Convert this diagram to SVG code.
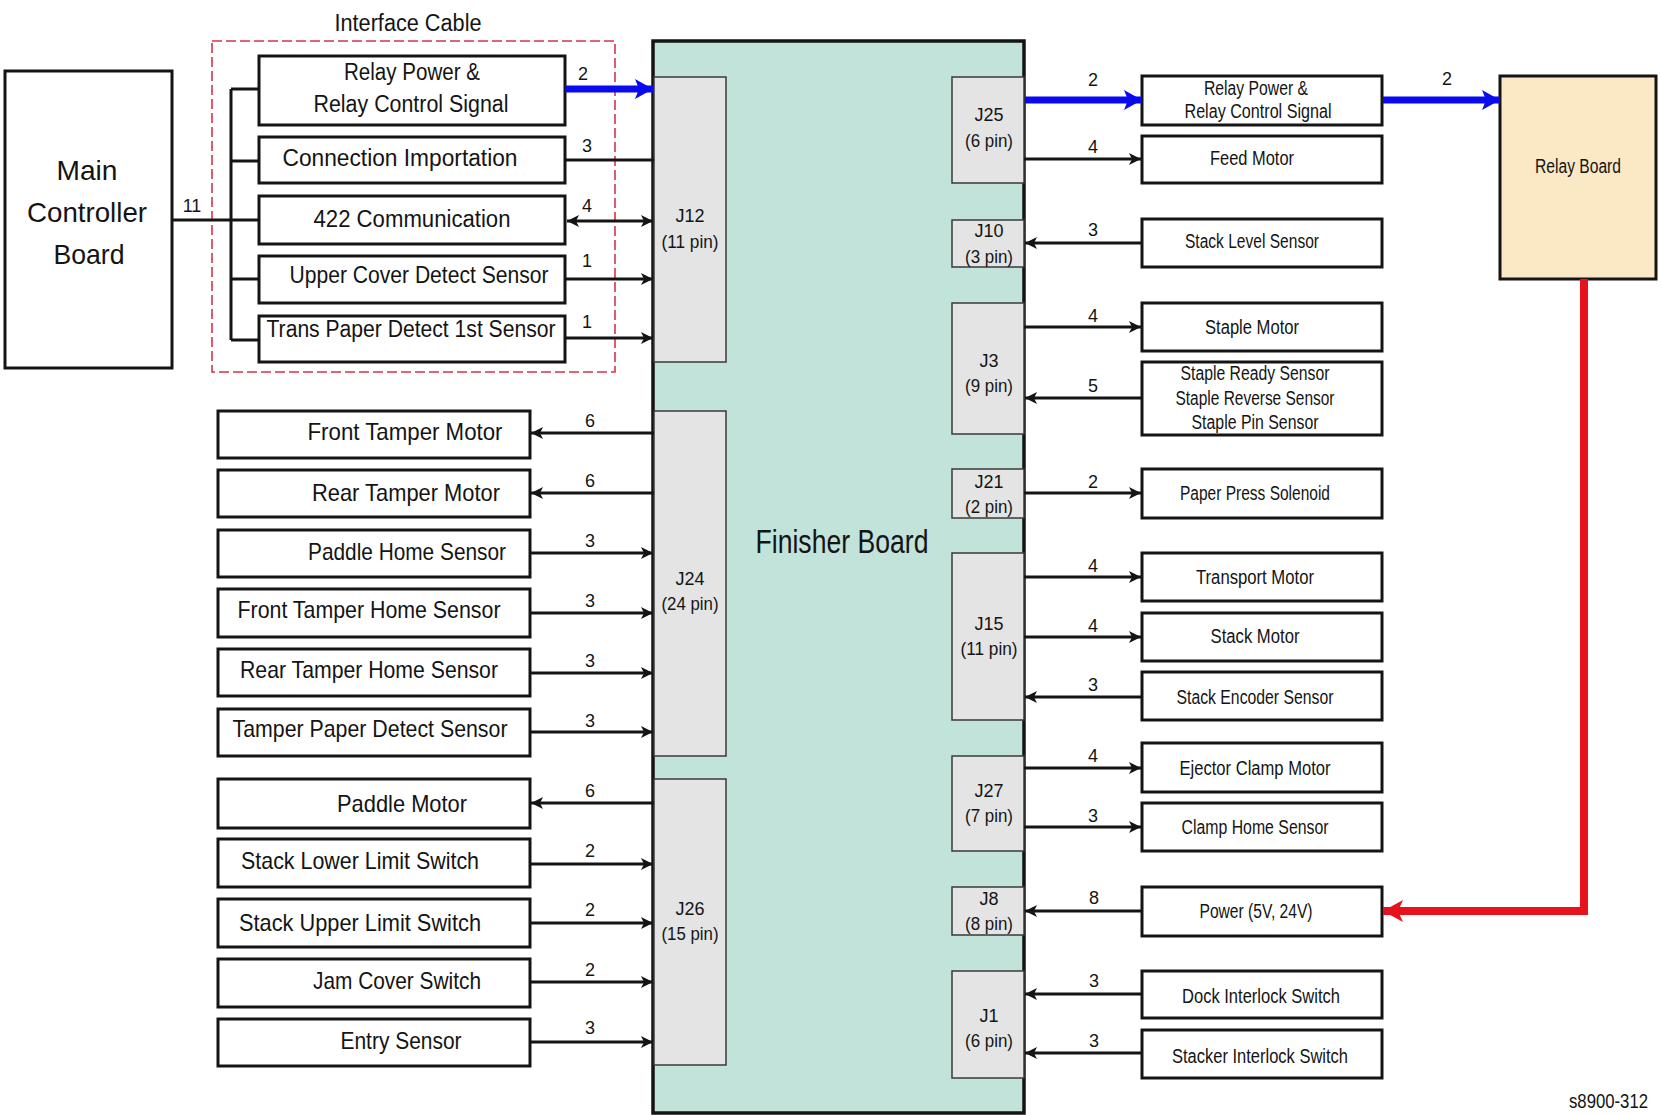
<svg xmlns="http://www.w3.org/2000/svg" width="1661" height="1115" viewBox="0 0 1661 1115">
  <style>
    .t { font-family: "Liberation Sans", Arial, sans-serif; fill: #141414; text-anchor: middle; }
    .ib { font-size: 23px; }
    .lb { font-size: 24px; }
    .rb { font-size: 20px; }
    .jl { font-size: 18px; }
    .num { font-size: 18px; }
    .box { fill: #ffffff; stroke: #141414; stroke-width: 3; }
    .conn { fill: #e4e4e4; stroke: #3a3a3a; stroke-width: 1.5; }
    .w { fill: none; stroke: #141414; stroke-width: 3; }
    .blue { fill: none; stroke: #0a0af0; stroke-width: 7; }
    .red { fill: none; stroke: #e8121c; stroke-width: 8; stroke-linejoin: miter; }
  </style>
  <defs>
    <marker id="ah" markerUnits="userSpaceOnUse" viewBox="0 0 12 12" refX="12" refY="6" markerWidth="12" markerHeight="12" orient="auto-start-reverse">
      <path d="M0,0 L12,6 L0,12 L3,6 Z" fill="#141414"/>
    </marker>
    <marker id="ahBlue" markerUnits="userSpaceOnUse" viewBox="0 0 18 20" refX="18" refY="10" markerWidth="18" markerHeight="20" orient="auto">
      <path d="M0,0 L18,10 L0,20 L4,10 Z" fill="#0a0af0"/>
    </marker>
    <marker id="ahRed" markerUnits="userSpaceOnUse" viewBox="0 0 20 22" refX="20" refY="11" markerWidth="20" markerHeight="22" orient="auto">
      <path d="M0,0 L20,11 L0,22 L5,11 Z" fill="#e8121c"/>
    </marker>
  </defs>

  <rect width="1661" height="1115" fill="#ffffff"/>

  <!-- Finisher board with its connectors -->
  <g id="finisher-board">
    <rect x="653" y="41" width="371" height="1072" fill="#c1e3da" stroke="#141414" stroke-width="3.5"/>
    <text class="t" x="842" y="553" font-size="33" textLength="173" lengthAdjust="spacingAndGlyphs">Finisher Board</text>
  </g>
  <g id="j12"><rect class="conn" x="654" y="77" width="72" height="285"/>
    <text class="t jl" x="690" y="222">J12</text><text class="t jl" x="690" y="248" textLength="57" lengthAdjust="spacingAndGlyphs">(11 pin)</text></g>
  <g id="j24"><rect class="conn" x="654" y="411" width="72" height="345"/>
    <text class="t jl" x="690" y="585">J24</text><text class="t jl" x="690" y="610" textLength="57" lengthAdjust="spacingAndGlyphs">(24 pin)</text></g>
  <g id="j26"><rect class="conn" x="654" y="779" width="72" height="286"/>
    <text class="t jl" x="690" y="915">J26</text><text class="t jl" x="690" y="940" textLength="57" lengthAdjust="spacingAndGlyphs">(15 pin)</text></g>
  <g id="j25"><rect class="conn" x="952" y="77" width="72" height="106"/>
    <text class="t jl" x="989" y="121">J25</text><text class="t jl" x="989" y="147" textLength="48" lengthAdjust="spacingAndGlyphs">(6 pin)</text></g>
  <g id="j10"><rect class="conn" x="952" y="220" width="72" height="47"/>
    <text class="t jl" x="989" y="237">J10</text><text class="t jl" x="989" y="263" textLength="48" lengthAdjust="spacingAndGlyphs">(3 pin)</text></g>
  <g id="j3"><rect class="conn" x="952" y="303" width="72" height="131"/>
    <text class="t jl" x="989" y="367">J3</text><text class="t jl" x="989" y="392" textLength="48" lengthAdjust="spacingAndGlyphs">(9 pin)</text></g>
  <g id="j21"><rect class="conn" x="952" y="469" width="72" height="49"/>
    <text class="t jl" x="989" y="488">J21</text><text class="t jl" x="989" y="513" textLength="48" lengthAdjust="spacingAndGlyphs">(2 pin)</text></g>
  <g id="j15"><rect class="conn" x="952" y="553" width="72" height="167"/>
    <text class="t jl" x="989" y="630">J15</text><text class="t jl" x="989" y="655" textLength="57" lengthAdjust="spacingAndGlyphs">(11 pin)</text></g>
  <g id="j27"><rect class="conn" x="952" y="756" width="72" height="95"/>
    <text class="t jl" x="989" y="797">J27</text><text class="t jl" x="989" y="822" textLength="48" lengthAdjust="spacingAndGlyphs">(7 pin)</text></g>
  <g id="j8"><rect class="conn" x="952" y="887" width="72" height="48"/>
    <text class="t jl" x="989" y="905">J8</text><text class="t jl" x="989" y="930" textLength="48" lengthAdjust="spacingAndGlyphs">(8 pin)</text></g>
  <g id="j1"><rect class="conn" x="952" y="971" width="72" height="107"/>
    <text class="t jl" x="989" y="1022">J1</text><text class="t jl" x="989" y="1047" textLength="48" lengthAdjust="spacingAndGlyphs">(6 pin)</text></g>

  <!-- Main controller board -->
  <g id="main-controller-board">
    <rect class="box" x="5" y="71" width="167" height="297"/>
    <text class="t" font-size="28" x="87" y="180" textLength="61" lengthAdjust="spacingAndGlyphs">Main</text>
    <text class="t" font-size="28" x="87" y="222" textLength="120" lengthAdjust="spacingAndGlyphs">Controller</text>
    <text class="t" font-size="28" x="89" y="264" textLength="71" lengthAdjust="spacingAndGlyphs">Board</text>
  </g>

  <!-- Interface cable bundle -->
  <g id="interface-cable">
    <rect x="212" y="41" width="403" height="331" fill="none" stroke="#d9324a" stroke-width="1.6" stroke-dasharray="10,4"/>
    <text class="t" font-size="23" x="408" y="31" textLength="147" lengthAdjust="spacingAndGlyphs">Interface Cable</text>
  </g>
  <g id="if-relay-power">
    <rect class="box" x="259" y="56" width="306" height="69"/>
    <text class="t ib" x="412" y="80" textLength="136" lengthAdjust="spacingAndGlyphs">Relay Power &amp;</text>
    <text class="t ib" x="411" y="112" textLength="195" lengthAdjust="spacingAndGlyphs">Relay Control Signal</text>
  </g>
  <g id="if-connection-importation">
    <rect class="box" x="259" y="137" width="306" height="46"/>
    <text class="t ib" x="400" y="166" textLength="235" lengthAdjust="spacingAndGlyphs">Connection Importation</text>
  </g>
  <g id="if-422-communication">
    <rect class="box" x="259" y="196" width="306" height="48"/>
    <text class="t ib" x="412" y="227" textLength="197" lengthAdjust="spacingAndGlyphs">422 Communication</text>
  </g>
  <g id="if-upper-cover">
    <rect class="box" x="259" y="256" width="306" height="47"/>
    <text class="t ib" x="419" y="283" textLength="259" lengthAdjust="spacingAndGlyphs">Upper Cover Detect Sensor</text>
  </g>
  <g id="if-trans-paper">
    <rect class="box" x="259" y="316" width="306" height="46"/>
    <text class="t ib" x="411" y="337" textLength="289" lengthAdjust="spacingAndGlyphs">Trans Paper Detect 1st Sensor</text>
  </g>

  <!-- Left side devices -->
  <g id="front-tamper-motor"><rect class="box" x="218" y="411" width="312" height="47"/>
    <text class="t lb" x="405" y="440" textLength="195" lengthAdjust="spacingAndGlyphs">Front Tamper Motor</text></g>
  <g id="rear-tamper-motor"><rect class="box" x="218" y="470" width="312" height="47"/>
    <text class="t lb" x="406" y="501" textLength="188" lengthAdjust="spacingAndGlyphs">Rear Tamper Motor</text></g>
  <g id="paddle-home-sensor"><rect class="box" x="218" y="530" width="312" height="47"/>
    <text class="t lb" x="407" y="560" textLength="198" lengthAdjust="spacingAndGlyphs">Paddle Home Sensor</text></g>
  <g id="front-tamper-home-sensor"><rect class="box" x="218" y="589" width="312" height="48"/>
    <text class="t lb" x="369" y="618" textLength="263" lengthAdjust="spacingAndGlyphs">Front Tamper Home Sensor</text></g>
  <g id="rear-tamper-home-sensor"><rect class="box" x="218" y="649" width="312" height="47"/>
    <text class="t lb" x="369" y="678" textLength="258" lengthAdjust="spacingAndGlyphs">Rear Tamper Home Sensor</text></g>
  <g id="tamper-paper-detect-sensor"><rect class="box" x="218" y="709" width="312" height="47"/>
    <text class="t lb" x="370" y="737" textLength="275" lengthAdjust="spacingAndGlyphs">Tamper Paper Detect Sensor</text></g>
  <g id="paddle-motor"><rect class="box" x="218" y="779" width="312" height="49"/>
    <text class="t lb" x="402" y="812" textLength="130" lengthAdjust="spacingAndGlyphs">Paddle Motor</text></g>
  <g id="stack-lower-limit-switch"><rect class="box" x="218" y="839" width="312" height="48"/>
    <text class="t lb" x="360" y="869" textLength="238" lengthAdjust="spacingAndGlyphs">Stack Lower Limit Switch</text></g>
  <g id="stack-upper-limit-switch"><rect class="box" x="218" y="899" width="312" height="48"/>
    <text class="t lb" x="360" y="931" textLength="242" lengthAdjust="spacingAndGlyphs">Stack Upper Limit Switch</text></g>
  <g id="jam-cover-switch"><rect class="box" x="218" y="959" width="312" height="48"/>
    <text class="t lb" x="397" y="989" textLength="168" lengthAdjust="spacingAndGlyphs">Jam Cover Switch</text></g>
  <g id="entry-sensor"><rect class="box" x="218" y="1019" width="312" height="47"/>
    <text class="t lb" x="401" y="1049" textLength="121" lengthAdjust="spacingAndGlyphs">Entry Sensor</text></g>

  <!-- Right side devices -->
  <g id="relay-power-out"><rect class="box" x="1142" y="76" width="240" height="49"/>
    <text class="t rb" x="1256" y="95" textLength="104" lengthAdjust="spacingAndGlyphs">Relay Power &amp;</text>
    <text class="t rb" x="1258" y="118" textLength="147" lengthAdjust="spacingAndGlyphs">Relay Control Signal</text></g>
  <g id="feed-motor"><rect class="box" x="1142" y="136" width="240" height="47"/>
    <text class="t rb" x="1252" y="165" textLength="84" lengthAdjust="spacingAndGlyphs">Feed Motor</text></g>
  <g id="stack-level-sensor"><rect class="box" x="1142" y="219" width="240" height="48"/>
    <text class="t rb" x="1252" y="248" textLength="134" lengthAdjust="spacingAndGlyphs">Stack Level Sensor</text></g>
  <g id="staple-motor"><rect class="box" x="1142" y="303" width="240" height="48"/>
    <text class="t rb" x="1252" y="334" textLength="94" lengthAdjust="spacingAndGlyphs">Staple Motor</text></g>
  <g id="staple-sensors"><rect class="box" x="1142" y="362" width="240" height="73"/>
    <text class="t rb" x="1255" y="380" textLength="149" lengthAdjust="spacingAndGlyphs">Staple Ready Sensor</text>
    <text class="t rb" x="1255" y="405" textLength="159" lengthAdjust="spacingAndGlyphs">Staple Reverse Sensor</text>
    <text class="t rb" x="1255" y="429" textLength="127" lengthAdjust="spacingAndGlyphs">Staple Pin Sensor</text></g>
  <g id="paper-press-solenoid"><rect class="box" x="1142" y="469" width="240" height="49"/>
    <text class="t rb" x="1255" y="500" textLength="150" lengthAdjust="spacingAndGlyphs">Paper Press Solenoid</text></g>
  <g id="transport-motor"><rect class="box" x="1142" y="553" width="240" height="48"/>
    <text class="t rb" x="1255" y="584" textLength="118" lengthAdjust="spacingAndGlyphs">Transport Motor</text></g>
  <g id="stack-motor"><rect class="box" x="1142" y="613" width="240" height="48"/>
    <text class="t rb" x="1255" y="643" textLength="89" lengthAdjust="spacingAndGlyphs">Stack Motor</text></g>
  <g id="stack-encoder-sensor"><rect class="box" x="1142" y="672" width="240" height="48"/>
    <text class="t rb" x="1255" y="704" textLength="157" lengthAdjust="spacingAndGlyphs">Stack Encoder Sensor</text></g>
  <g id="ejector-clamp-motor"><rect class="box" x="1142" y="743" width="240" height="49"/>
    <text class="t rb" x="1255" y="775" textLength="151" lengthAdjust="spacingAndGlyphs">Ejector Clamp Motor</text></g>
  <g id="clamp-home-sensor"><rect class="box" x="1142" y="803" width="240" height="48"/>
    <text class="t rb" x="1255" y="834" textLength="147" lengthAdjust="spacingAndGlyphs">Clamp Home Sensor</text></g>
  <g id="power-supply"><rect class="box" x="1142" y="887" width="240" height="49"/>
    <text class="t rb" x="1256" y="918" textLength="113" lengthAdjust="spacingAndGlyphs">Power (5V, 24V)</text></g>
  <g id="dock-interlock-switch"><rect class="box" x="1142" y="971" width="240" height="47"/>
    <text class="t rb" x="1261" y="1003" textLength="158" lengthAdjust="spacingAndGlyphs">Dock Interlock Switch</text></g>
  <g id="stacker-interlock-switch"><rect class="box" x="1142" y="1030" width="240" height="48"/>
    <text class="t rb" x="1260" y="1063" textLength="176" lengthAdjust="spacingAndGlyphs">Stacker Interlock Switch</text></g>

  <!-- Relay board -->
  <g id="relay-board">
    <rect x="1500" y="76" width="156" height="203" fill="#fbe8c4" stroke="#141414" stroke-width="3"/>
    <text class="t rb" x="1578" y="173" textLength="86" lengthAdjust="spacingAndGlyphs">Relay Board</text>
  </g>

  <!-- Wiring between boards and devices -->
  <g id="connectors">
    <!-- main controller to interface bundle -->
    <path class="w" d="M172,220 H231 M231,89 V340 M231,89 H259 M231,161 H259 M231,220 H259 M231,279 H259 M231,340 H259"/>
    <!-- interface bundle to J12 -->
    <path class="blue" d="M565,89 H653" marker-end="url(#ahBlue)"/>
    <path class="w" d="M565,160 H654"/>
    <path class="w" d="M567,221 H653" marker-start="url(#ah)" marker-end="url(#ah)"/>
    <path class="w" d="M565,279 H653" marker-end="url(#ah)"/>
    <path class="w" d="M565,338 H653" marker-end="url(#ah)"/>
    <!-- J24 / J26 to left devices -->
    <path class="w" d="M654,433 H531" marker-end="url(#ah)"/>
    <path class="w" d="M654,493 H531" marker-end="url(#ah)"/>
    <path class="w" d="M530,553 H653" marker-end="url(#ah)"/>
    <path class="w" d="M530,613 H653" marker-end="url(#ah)"/>
    <path class="w" d="M530,673 H653" marker-end="url(#ah)"/>
    <path class="w" d="M530,732 H653" marker-end="url(#ah)"/>
    <path class="w" d="M654,803 H531" marker-end="url(#ah)"/>
    <path class="w" d="M530,864 H653" marker-end="url(#ah)"/>
    <path class="w" d="M530,923 H653" marker-end="url(#ah)"/>
    <path class="w" d="M530,982 H653" marker-end="url(#ah)"/>
    <path class="w" d="M530,1042 H653" marker-end="url(#ah)"/>
    <!-- right side connectors -->
    <path class="blue" d="M1025,100 H1142" marker-end="url(#ahBlue)"/>
    <path class="w" d="M1024,159 H1141" marker-end="url(#ah)"/>
    <path class="w" d="M1142,243 H1025" marker-end="url(#ah)"/>
    <path class="w" d="M1024,327 H1141" marker-end="url(#ah)"/>
    <path class="w" d="M1142,398 H1025" marker-end="url(#ah)"/>
    <path class="w" d="M1024,493 H1141" marker-end="url(#ah)"/>
    <path class="w" d="M1024,577 H1141" marker-end="url(#ah)"/>
    <path class="w" d="M1024,637 H1141" marker-end="url(#ah)"/>
    <path class="w" d="M1142,697 H1025" marker-end="url(#ah)"/>
    <path class="w" d="M1024,768 H1141" marker-end="url(#ah)"/>
    <path class="w" d="M1024,827 H1141" marker-end="url(#ah)"/>
    <path class="w" d="M1142,911 H1025" marker-end="url(#ah)"/>
    <path class="w" d="M1142,994 H1025" marker-end="url(#ah)"/>
    <path class="w" d="M1142,1053 H1025" marker-end="url(#ah)"/>
    <!-- relay board links -->
    <path class="blue" d="M1383,100 H1500" marker-end="url(#ahBlue)"/>
    <path class="red" d="M1584,279 V911 H1383" marker-end="url(#ahRed)"/>

    <!-- wire counts -->
    <g class="t num">
      <text x="192" y="212">11</text>
      <text x="583" y="80">2</text>
      <text x="587" y="152">3</text>
      <text x="587" y="212">4</text>
      <text x="587" y="267">1</text>
      <text x="587" y="328">1</text>
      <text x="590" y="427">6</text>
      <text x="590" y="487">6</text>
      <text x="590" y="547">3</text>
      <text x="590" y="607">3</text>
      <text x="590" y="667">3</text>
      <text x="590" y="727">3</text>
      <text x="590" y="797">6</text>
      <text x="590" y="857">2</text>
      <text x="590" y="916">2</text>
      <text x="590" y="976">2</text>
      <text x="590" y="1034">3</text>
      <text x="1093" y="86">2</text>
      <text x="1093" y="153">4</text>
      <text x="1093" y="236">3</text>
      <text x="1093" y="322">4</text>
      <text x="1093" y="392">5</text>
      <text x="1093" y="488">2</text>
      <text x="1093" y="572">4</text>
      <text x="1093" y="632">4</text>
      <text x="1093" y="691">3</text>
      <text x="1093" y="762">4</text>
      <text x="1093" y="822">3</text>
      <text x="1094" y="904">8</text>
      <text x="1094" y="987">3</text>
      <text x="1094" y="1047">3</text>
      <text x="1447" y="85">2</text>
    </g>
  </g>

  <text class="t" font-size="20" x="1648" y="1108" text-anchor="end" style="text-anchor:end" textLength="79" lengthAdjust="spacingAndGlyphs">s8900-312</text>
</svg>
